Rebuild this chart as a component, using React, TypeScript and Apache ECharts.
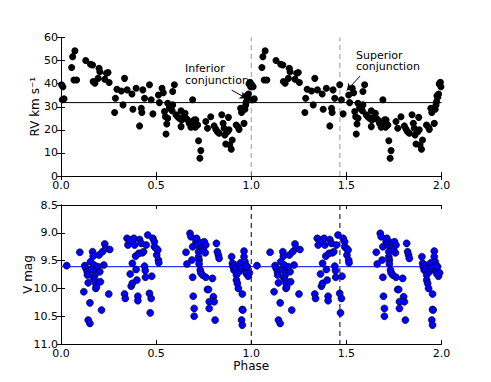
import React, { useEffect, useRef } from "react";
import * as echarts from "echarts";

const rvMean = 31.8;
const vMean = 9.61;
const conjunctions = [1.0, 1.466];

const rvPoints: [number, number][] = [
  [0.003, 39.5], [0.01, 38.7], [0.007, 33], [0.016, 33.4], [0.056, 47], [0.061, 51.7], [0.073, 54.2],
  [0.068, 41.6], [0.082, 41.6], [0.13, 50], [0.155, 48.4], [0.166, 48.1], [0.169, 40.9], [0.178, 40.2],
  [0.2, 46.7], [0.204, 45.2], [0.195, 42.3], [0.23, 41.9], [0.239, 44.5], [0.247, 44.8], [0.253, 40.5],
  [0.286, 33.7], [0.282, 27.5], [0.294, 37.6], [0.317, 36.8], [0.326, 30.8], [0.334, 42.3], [0.348, 37.3],
  [0.373, 35.5], [0.378, 28.9], [0.395, 38], [0.413, 21.7], [0.422, 29.3], [0.425, 27.5], [0.43, 37.3],
  [0.439, 33.7], [0.465, 39.5], [0.474, 33], [0.483, 26.9], [0.512, 35.1], [0.517, 31.8], [0.531, 38],
  [0.538, 36.1], [0.544, 27.9], [0.549, 25.7], [0.552, 18.2], [0.556, 22.5], [0.561, 25], [0.561, 31.5],
  [0.57, 29.8], [0.573, 29.3], [0.584, 28.3], [0.587, 30.8], [0.587, 36.6], [0.596, 39.5], [0.604, 26.5],
  [0.613, 25.7], [0.622, 25], [0.631, 28.3], [0.634, 24.3], [0.631, 21.4], [0.645, 25.7], [0.652, 27.2],
  [0.657, 25], [0.666, 24.3], [0.674, 22.8], [0.683, 21.1], [0.692, 33], [0.688, 22.5], [0.7, 24.3],
  [0.706, 21.1], [0.709, 24.3], [0.718, 22.1], [0.723, 15.3], [0.735, 11], [0.73, 7.7], [0.761, 23.6],
  [0.77, 20.7], [0.787, 25.7], [0.805, 21.7], [0.814, 20.2], [0.822, 19.2], [0.831, 18.5], [0.845, 26.5],
  [0.852, 22.8], [0.857, 20.7], [0.861, 17.8], [0.866, 13.9], [0.875, 19.2], [0.88, 25.4], [0.883, 20],
  [0.887, 13.4], [0.895, 11.6], [0.9, 15.6], [0.921, 22.1], [0.932, 21.1], [0.936, 20.2], [0.944, 29.3],
  [0.949, 27.5], [0.962, 22.8], [0.967, 28.9], [0.971, 30.8], [0.974, 32.2], [0.98, 34.1], [0.985, 35.5],
  [0.988, 39.9], [0.994, 40.6], [0.997, 38.7], [0.976, 34.7],
];

const vPoints: [number, number][] = [
  [0.03, 9.59], [0.099, 9.35], [0.12, 10.06], [0.125, 9.59], [0.131, 9.64], [0.138, 9.7], [0.139, 9.76],
  [0.143, 10.57], [0.152, 10.63], [0.152, 10.26], [0.143, 9.9], [0.155, 9.52], [0.16, 9.66], [0.166, 9.34],
  [0.169, 9.42], [0.169, 9.8], [0.174, 9.58], [0.178, 9.76], [0.178, 9.85], [0.183, 9.91], [0.183, 10.0],
  [0.186, 9.97], [0.19, 9.67], [0.195, 9.61], [0.2, 9.4], [0.204, 9.7], [0.207, 9.88], [0.213, 10.39],
  [0.218, 9.34], [0.225, 9.58], [0.23, 9.2], [0.235, 9.28], [0.251, 10.1], [0.256, 9.3],
  [0.334, 10.1], [0.338, 10.18], [0.347, 9.1], [0.352, 9.22], [0.361, 9.13], [0.364, 9.74], [0.369, 9.96],
  [0.375, 9.91], [0.375, 9.55], [0.383, 9.1], [0.387, 9.22], [0.392, 9.42], [0.395, 9.66], [0.399, 9.85],
  [0.404, 10.14], [0.404, 10.22], [0.409, 9.37], [0.413, 9.12], [0.422, 9.19], [0.427, 9.36], [0.434, 9.34],
  [0.439, 9.6], [0.443, 9.68], [0.444, 9.8], [0.448, 9.22], [0.456, 9.04], [0.465, 10.09], [0.469, 10.44],
  [0.474, 10.18], [0.477, 9.78], [0.483, 9.1], [0.491, 9.16], [0.491, 9.25], [0.5, 9.28], [0.503, 9.4],
  [0.509, 9.31], [0.512, 9.49], [0.514, 9.54],
  [0.657, 9.35], [0.662, 9.56], [0.678, 9.01], [0.683, 9.07], [0.688, 9.49], [0.692, 9.25], [0.692, 9.8],
  [0.695, 10.14], [0.7, 10.36], [0.7, 10.5], [0.709, 9.16], [0.713, 9.1], [0.718, 9.22], [0.723, 9.34],
  [0.723, 9.43], [0.726, 9.49], [0.726, 9.56], [0.732, 9.67], [0.735, 9.72], [0.735, 9.18], [0.74, 9.26],
  [0.744, 9.76], [0.747, 9.31], [0.753, 9.16], [0.758, 9.36], [0.761, 9.22], [0.761, 9.8], [0.77, 10.02],
  [0.775, 10.02], [0.779, 10.24], [0.779, 10.36], [0.796, 9.82], [0.801, 10.15], [0.805, 10.24],
  [0.81, 10.57], [0.817, 9.19], [0.822, 9.34], [0.827, 9.4], [0.831, 9.46],
  [0.897, 9.43], [0.901, 9.55], [0.904, 9.61], [0.909, 9.67], [0.914, 9.58], [0.918, 9.64], [0.922, 9.76],
  [0.922, 9.85], [0.927, 9.91], [0.932, 10.0], [0.936, 9.7], [0.939, 9.6], [0.944, 9.54], [0.949, 9.64],
  [0.953, 10.1], [0.953, 10.38], [0.956, 10.39], [0.949, 10.57], [0.953, 10.66], [0.962, 9.33],
  [0.962, 9.43], [0.967, 9.52], [0.97, 9.67], [0.974, 9.73], [0.979, 9.61], [0.984, 9.78], [0.99, 9.72],
  [0.976, 9.6],
];

const inferiorArrow: [number, number][] = [[0.897, 37.2], [0.976, 33.6]];
const superiorArrow: [number, number][] = [[1.572, 43.3], [1.502, 37.0]];

const fold = (pts: [number, number][]) => [...pts, ...pts.map(([p, v]) => [p + 1, v])];

const FONT = "DejaVu Sans";

function xAxes(gridIndex: number, withName: boolean) {
  const base = {
    type: "value" as const,
    gridIndex,
    min: 0,
    max: 2,
    interval: 0.5,
    splitLine: { show: false },
    axisLine: { show: true, lineStyle: { color: "#000", width: 1 } },
    axisTick: { show: true, inside: true, length: 4, lineStyle: { color: "#000" } },
  };
  return [
    {
      ...base,
      position: "bottom",
      axisLabel: { fontSize: 11, color: "#000", fontFamily: FONT, margin: 4, formatter: (v: number) => v.toFixed(1) },
      name: withName ? "Phase" : "",
      nameLocation: "middle",
      nameGap: 16,
      nameMoveOverlap: false,
      nameTextStyle: { fontSize: 12, color: "#000", fontFamily: FONT },
    },
    { ...base, position: "top", axisLabel: { show: false } },
  ];
}

function yAxes(gridIndex: number, min: number, max: number, interval: number, name: string, gap: number, inverse: boolean, dec: number) {
  const base = {
    type: "value" as const,
    gridIndex,
    min,
    max,
    interval,
    inverse,
    splitLine: { show: false },
    axisLine: { show: true, lineStyle: { color: "#000", width: 1 } },
    axisTick: { show: true, inside: true, length: 4, lineStyle: { color: "#000" } },
  };
  return [
    {
      ...base,
      position: "left",
      axisLabel: { fontSize: 11, color: "#000", fontFamily: FONT, margin: 3, formatter: (v: number) => v.toFixed(dec) },
      name,
      nameLocation: "middle",
      nameGap: gap,
      nameMoveOverlap: false,
      nameTextStyle: { fontSize: 12, color: "#000", fontFamily: FONT },
    },
    { ...base, position: "right", axisLabel: { show: false } },
  ];
}

export default function App() {
  const ref = useRef<HTMLDivElement>(null);
  useEffect(() => {
    if (!ref.current) return;
    const chart = echarts.init(ref.current, undefined, { renderer: "svg" });
    const series: any[] = [];
    conjunctions.forEach((c) => {
      series.push({
        type: "line", xAxisIndex: 0, yAxisIndex: 0, data: [[c, 0], [c, 60]], symbol: "none", z: 1,
        lineStyle: { color: "#999", width: 1, type: [5, 4] },
      });
      series.push({
        type: "line", xAxisIndex: 2, yAxisIndex: 2, data: [[c, 8.5], [c, 11]], symbol: "none", z: 1,
        lineStyle: { color: "#000", width: 1, type: [5, 4] },
      });
    });
    series.push({
      type: "line", xAxisIndex: 0, yAxisIndex: 0, data: [[0, rvMean], [2, rvMean]], symbol: "none", z: 2,
      lineStyle: { color: "#000", width: 1 },
      markLine: {
        silent: true, symbol: ["none", "arrow"], symbolSize: [6, 7], label: { show: false },
        lineStyle: { color: "#000", width: 1, type: "solid" },
        data: [
          [{ coord: inferiorArrow[0] }, { coord: inferiorArrow[1] }],
          [{ coord: superiorArrow[0] }, { coord: superiorArrow[1] }],
        ],
      },
    });
    series.push({
      type: "scatter", xAxisIndex: 0, yAxisIndex: 0, data: fold(rvPoints), symbolSize: 7, z: 3,
      itemStyle: { color: "#000", opacity: 1 },
    });
    series.push({
      type: "line", xAxisIndex: 2, yAxisIndex: 2, data: [[0, vMean], [2, vMean]], symbol: "none", z: 2,
      lineStyle: { color: "#3333ff", width: 1.2 },
    });
    series.push({
      type: "scatter", xAxisIndex: 2, yAxisIndex: 2, data: fold(vPoints), symbolSize: 7, z: 3,
      itemStyle: { color: "#0000ff", borderColor: "#000", borderWidth: 0.6, opacity: 1 },
    });
    chart.setOption({
      animation: false,
      grid: [
        { left: 61, top: 37.5, width: 380.5, height: 138.5 },
        { left: 61, top: 205, width: 380.5, height: 139 },
      ],
      xAxis: [...xAxes(0, false), ...xAxes(1, true)],
      yAxis: [
        ...yAxes(0, 0, 60, 10, "RV km s\u207B\u00B9", 20, false, 0),
        ...yAxes(1, 8.5, 11, 0.5, "V mag", 27, true, 1),
      ],
      series,
      graphic: [
        { type: "text", left: 185, top: 63, style: { text: "Inferior\nconjunction", fontSize: 11, lineHeight: 11.5, fill: "#000", fontFamily: FONT } },
        { type: "text", left: 356, top: 49.5, style: { text: "Superior\nconjunction", fontSize: 11, lineHeight: 11.5, fill: "#000", fontFamily: FONT } },
      ],
    });
    return () => chart.dispose();
  }, []);
  return <div ref={ref} style={{ position: "fixed", left: 0, top: 0, width: 491, height: 382, background: "#fff" }} />;
}
